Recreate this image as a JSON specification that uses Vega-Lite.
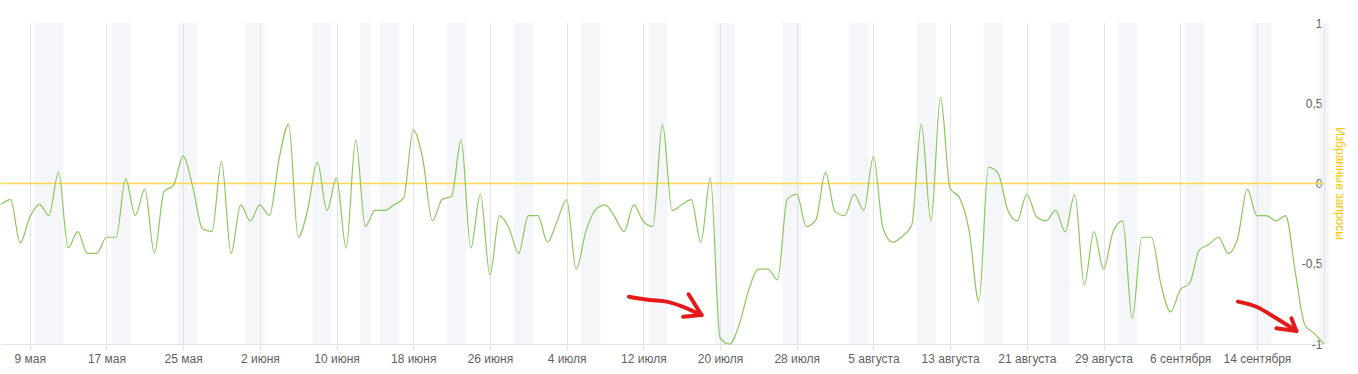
{
  "$schema": "https://vega.github.io/schema/vega-lite/v6.json",
  "width": 1323,
  "height": 321,
  "autosize": {"type": "none"},
  "padding": {"left": 1, "top": 23, "right": 34, "bottom": 30},
  "background": "white",
  "config": {"view": {"stroke": null}, "font": "Liberation Sans"},
  "datasets": {
    "series": [
      {"date": "2019-05-06", "v": -0.13}, {"date": "2019-05-07", "v": -0.10}, {"date": "2019-05-08", "v": -0.37},
      {"date": "2019-05-09", "v": -0.21}, {"date": "2019-05-10", "v": -0.13}, {"date": "2019-05-11", "v": -0.20},
      {"date": "2019-05-12", "v": 0.07}, {"date": "2019-05-13", "v": -0.40}, {"date": "2019-05-14", "v": -0.30},
      {"date": "2019-05-15", "v": -0.435}, {"date": "2019-05-16", "v": -0.435}, {"date": "2019-05-17", "v": -0.335},
      {"date": "2019-05-18", "v": -0.335}, {"date": "2019-05-19", "v": 0.03}, {"date": "2019-05-20", "v": -0.20},
      {"date": "2019-05-21", "v": -0.035}, {"date": "2019-05-22", "v": -0.435}, {"date": "2019-05-23", "v": -0.05},
      {"date": "2019-05-24", "v": -0.01}, {"date": "2019-05-25", "v": 0.17}, {"date": "2019-05-26", "v": -0.02},
      {"date": "2019-05-27", "v": -0.28}, {"date": "2019-05-28", "v": -0.30}, {"date": "2019-05-29", "v": 0.137},
      {"date": "2019-05-30", "v": -0.435}, {"date": "2019-05-31", "v": -0.133}, {"date": "2019-06-01", "v": -0.233},
      {"date": "2019-06-02", "v": -0.133}, {"date": "2019-06-03", "v": -0.20}, {"date": "2019-06-04", "v": 0.15},
      {"date": "2019-06-05", "v": 0.37}, {"date": "2019-06-06", "v": -0.335}, {"date": "2019-06-07", "v": -0.16},
      {"date": "2019-06-08", "v": 0.133}, {"date": "2019-06-09", "v": -0.168}, {"date": "2019-06-10", "v": 0.033},
      {"date": "2019-06-11", "v": -0.403}, {"date": "2019-06-12", "v": 0.272}, {"date": "2019-06-13", "v": -0.268},
      {"date": "2019-06-14", "v": -0.168}, {"date": "2019-06-15", "v": -0.168}, {"date": "2019-06-16", "v": -0.133},
      {"date": "2019-06-17", "v": -0.09}, {"date": "2019-06-18", "v": 0.335}, {"date": "2019-06-19", "v": 0.15},
      {"date": "2019-06-20", "v": -0.233}, {"date": "2019-06-21", "v": -0.10}, {"date": "2019-06-22", "v": -0.08},
      {"date": "2019-06-23", "v": 0.272}, {"date": "2019-06-24", "v": -0.403}, {"date": "2019-06-25", "v": -0.067},
      {"date": "2019-06-26", "v": -0.57}, {"date": "2019-06-27", "v": -0.20}, {"date": "2019-06-28", "v": -0.28},
      {"date": "2019-06-29", "v": -0.435}, {"date": "2019-06-30", "v": -0.20}, {"date": "2019-07-01", "v": -0.20},
      {"date": "2019-07-02", "v": -0.366}, {"date": "2019-07-03", "v": -0.237}, {"date": "2019-07-04", "v": -0.10},
      {"date": "2019-07-05", "v": -0.534}, {"date": "2019-07-06", "v": -0.30}, {"date": "2019-07-07", "v": -0.164},
      {"date": "2019-07-08", "v": -0.133}, {"date": "2019-07-09", "v": -0.206}, {"date": "2019-07-10", "v": -0.30},
      {"date": "2019-07-11", "v": -0.133}, {"date": "2019-07-12", "v": -0.237}, {"date": "2019-07-13", "v": -0.268},
      {"date": "2019-07-14", "v": 0.37}, {"date": "2019-07-15", "v": -0.168}, {"date": "2019-07-16", "v": -0.133},
      {"date": "2019-07-17", "v": -0.10}, {"date": "2019-07-18", "v": -0.366}, {"date": "2019-07-19", "v": 0.033},
      {"date": "2019-07-20", "v": -0.96}, {"date": "2019-07-21", "v": -1.0}, {"date": "2019-07-22", "v": -0.88},
      {"date": "2019-07-23", "v": -0.663}, {"date": "2019-07-24", "v": -0.534}, {"date": "2019-07-25", "v": -0.534},
      {"date": "2019-07-26", "v": -0.60}, {"date": "2019-07-27", "v": -0.10}, {"date": "2019-07-28", "v": -0.067},
      {"date": "2019-07-29", "v": -0.268}, {"date": "2019-07-30", "v": -0.227}, {"date": "2019-07-31", "v": 0.069},
      {"date": "2019-08-01", "v": -0.175}, {"date": "2019-08-02", "v": -0.20}, {"date": "2019-08-03", "v": -0.067},
      {"date": "2019-08-04", "v": -0.168}, {"date": "2019-08-05", "v": 0.168}, {"date": "2019-08-06", "v": -0.28},
      {"date": "2019-08-07", "v": -0.366}, {"date": "2019-08-08", "v": -0.33}, {"date": "2019-08-09", "v": -0.258},
      {"date": "2019-08-10", "v": 0.37}, {"date": "2019-08-11", "v": -0.233}, {"date": "2019-08-12", "v": 0.538},
      {"date": "2019-08-13", "v": -0.03}, {"date": "2019-08-14", "v": -0.09}, {"date": "2019-08-15", "v": -0.30},
      {"date": "2019-08-16", "v": -0.736}, {"date": "2019-08-17", "v": 0.10}, {"date": "2019-08-18", "v": 0.065},
      {"date": "2019-08-19", "v": -0.164}, {"date": "2019-08-20", "v": -0.233}, {"date": "2019-08-21", "v": -0.067},
      {"date": "2019-08-22", "v": -0.206}, {"date": "2019-08-23", "v": -0.233}, {"date": "2019-08-24", "v": -0.168},
      {"date": "2019-08-25", "v": -0.30}, {"date": "2019-08-26", "v": -0.067}, {"date": "2019-08-27", "v": -0.632},
      {"date": "2019-08-28", "v": -0.30}, {"date": "2019-08-29", "v": -0.534}, {"date": "2019-08-30", "v": -0.30},
      {"date": "2019-08-31", "v": -0.233}, {"date": "2019-09-01", "v": -0.84}, {"date": "2019-09-02", "v": -0.335},
      {"date": "2019-09-03", "v": -0.335}, {"date": "2019-09-04", "v": -0.632}, {"date": "2019-09-05", "v": -0.80},
      {"date": "2019-09-06", "v": -0.663}, {"date": "2019-09-07", "v": -0.62}, {"date": "2019-09-08", "v": -0.414},
      {"date": "2019-09-09", "v": -0.38}, {"date": "2019-09-10", "v": -0.335}, {"date": "2019-09-11", "v": -0.435},
      {"date": "2019-09-12", "v": -0.34}, {"date": "2019-09-13", "v": -0.035}, {"date": "2019-09-14", "v": -0.20},
      {"date": "2019-09-15", "v": -0.20}, {"date": "2019-09-16", "v": -0.233}, {"date": "2019-09-17", "v": -0.20},
      {"date": "2019-09-18", "v": -0.55}, {"date": "2019-09-19", "v": -0.88}, {"date": "2019-09-20", "v": -0.935},
      {"date": "2019-09-21", "v": -1.0}
    ],
    "bands": [
      {"start": "2019-05-09T12:00:00Z", "end": "2019-05-12T12:00:00Z"},
      {"start": "2019-05-17T12:00:00Z", "end": "2019-05-19T12:00:00Z"},
      {"start": "2019-05-24T12:00:00Z", "end": "2019-05-26T12:00:00Z"},
      {"start": "2019-05-31T12:00:00Z", "end": "2019-06-02T12:00:00Z"},
      {"start": "2019-06-07T12:00:00Z", "end": "2019-06-09T12:00:00Z"},
      {"start": "2019-06-12T12:00:00Z", "end": "2019-06-13T12:00:00Z"},
      {"start": "2019-06-14T12:00:00Z", "end": "2019-06-16T12:00:00Z"},
      {"start": "2019-06-21T12:00:00Z", "end": "2019-06-23T12:00:00Z"},
      {"start": "2019-06-28T12:00:00Z", "end": "2019-06-30T12:00:00Z"},
      {"start": "2019-07-05T12:00:00Z", "end": "2019-07-07T12:00:00Z"},
      {"start": "2019-07-12T12:00:00Z", "end": "2019-07-14T12:00:00Z"},
      {"start": "2019-07-19T12:00:00Z", "end": "2019-07-21T12:00:00Z"},
      {"start": "2019-07-26T12:00:00Z", "end": "2019-07-28T12:00:00Z"},
      {"start": "2019-08-02T12:00:00Z", "end": "2019-08-04T12:00:00Z"},
      {"start": "2019-08-09T12:00:00Z", "end": "2019-08-11T12:00:00Z"},
      {"start": "2019-08-16T12:00:00Z", "end": "2019-08-18T12:00:00Z"},
      {"start": "2019-08-23T12:00:00Z", "end": "2019-08-25T12:00:00Z"},
      {"start": "2019-08-30T12:00:00Z", "end": "2019-09-01T12:00:00Z"},
      {"start": "2019-09-06T12:00:00Z", "end": "2019-09-08T12:00:00Z"},
      {"start": "2019-09-13T12:00:00Z", "end": "2019-09-15T12:00:00Z"},
      {"start": "2019-09-20T12:00:00Z", "end": "2019-09-21T12:00:00Z"}
    ],
    "zero": [{"v": 0}],
    "arrows": [
      {"seg": "a1", "i": 0, "date": "2019-07-10T11:45:00Z", "v": -0.705},
      {"seg": "a1", "i": 1, "date": "2019-07-12T16:20:00Z", "v": -0.726},
      {"seg": "a1", "i": 2, "date": "2019-07-14T10:00:00Z", "v": -0.736},
      {"seg": "a1", "i": 3, "date": "2019-07-16T03:40:00Z", "v": -0.768},
      {"seg": "a1", "i": 4, "date": "2019-07-18T01:40:00Z", "v": -0.819},
      {"seg": "a1u", "i": 0, "date": "2019-07-16T17:20:00Z", "v": -0.690},
      {"seg": "a1u", "i": 1, "date": "2019-07-18T01:40:00Z", "v": -0.819},
      {"seg": "a1l", "i": 0, "date": "2019-07-16T03:40:00Z", "v": -0.830},
      {"seg": "a1l", "i": 1, "date": "2019-07-18T01:40:00Z", "v": -0.819},
      {"seg": "a2", "i": 0, "date": "2019-09-12T00:40:00Z", "v": -0.736},
      {"seg": "a2", "i": 1, "date": "2019-09-13T22:50:00Z", "v": -0.768},
      {"seg": "a2", "i": 2, "date": "2019-09-16T00:40:00Z", "v": -0.840},
      {"seg": "a2", "i": 3, "date": "2019-09-18T02:50:00Z", "v": -0.919},
      {"seg": "a2u", "i": 0, "date": "2019-09-17T14:20:00Z", "v": -0.840},
      {"seg": "a2u", "i": 1, "date": "2019-09-18T02:50:00Z", "v": -0.919},
      {"seg": "a2l", "i": 0, "date": "2019-09-16T00:40:00Z", "v": -0.902},
      {"seg": "a2l", "i": 1, "date": "2019-09-18T02:50:00Z", "v": -0.919}
    ]
  },
  "layer": [
    {
      "data": {"name": "bands"},
      "mark": {"type": "rect", "color": "#dde2ea", "opacity": 0.3},
      "encoding": {
        "x": {
          "field": "start", "type": "temporal",
          "scale": {"type": "utc", "domain": [{"year": 2019, "month": "may", "date": 6, "utc": true}, {"year": 2019, "month": "sep", "date": 21, "utc": true}]},
          "axis": {
            "values": [
              {"year": 2019, "month": "may", "date": 9, "utc": true},
              {"year": 2019, "month": "may", "date": 17, "utc": true},
              {"year": 2019, "month": "may", "date": 25, "utc": true},
              {"year": 2019, "month": "jun", "date": 2, "utc": true},
              {"year": 2019, "month": "jun", "date": 10, "utc": true},
              {"year": 2019, "month": "jun", "date": 18, "utc": true},
              {"year": 2019, "month": "jun", "date": 26, "utc": true},
              {"year": 2019, "month": "jul", "date": 4, "utc": true},
              {"year": 2019, "month": "jul", "date": 12, "utc": true},
              {"year": 2019, "month": "jul", "date": 20, "utc": true},
              {"year": 2019, "month": "jul", "date": 28, "utc": true},
              {"year": 2019, "month": "aug", "date": 5, "utc": true},
              {"year": 2019, "month": "aug", "date": 13, "utc": true},
              {"year": 2019, "month": "aug", "date": 21, "utc": true},
              {"year": 2019, "month": "aug", "date": 29, "utc": true},
              {"year": 2019, "month": "sep", "date": 6, "utc": true},
              {"year": 2019, "month": "sep", "date": 14, "utc": true}
            ],
            "labelExpr": "utcdate(datum.value) + ' ' + ['января','февраля','марта','апреля','мая','июня','июля','августа','сентября','октября','ноября','декабря'][utcmonth(datum.value)]",
            "title": null,
            "grid": true,
            "gridColor": "#e3e3e3",
            "gridWidth": 1,
            "domainColor": "#e3e3e3",
            "tickColor": "#e3e3e3",
            "tickSize": 6,
            "labelColor": "#5f5f5f",
            "labelFontSize": 12,
            "labelFont": "Liberation Sans",
            "labelPadding": 3,
            "labelFlush": false,
            "labelOverlap": false
          }
        },
        "x2": {"field": "end"}
      }
    },
    {
      "data": {"name": "zero"},
      "mark": {"type": "rule", "color": "#ffd84d", "strokeWidth": 1.6},
      "encoding": {"y": {"field": "v", "type": "quantitative"}}
    },
    {
      "data": {"name": "series"},
      "mark": {"type": "line", "interpolate": "monotone", "color": "#8cc65c", "strokeWidth": 1.2},
      "encoding": {
        "x": {"field": "date", "type": "temporal"},
        "y": {
          "field": "v", "type": "quantitative",
          "scale": {"domain": [-1, 1], "nice": false, "zero": false},
          "axis": {
            "orient": "right",
            "values": [-1, -0.5, 0, 0.5, 1],
            "labelExpr": "replace(toString(datum.value), '.', ',')",
            "grid": false,
            "ticks": false,
            "tickSize": 0,
            "domain": true,
            "domainColor": "#e6e6e6",
            "labelAlign": "right",
            "labelPadding": -2,
            "labelColor": "#5f5f5f",
            "labelFontSize": 12,
            "labelFont": "Liberation Sans",
            "labelFlush": false,
            "title": "Избранные запросы",
            "titleColor": "#f7c600",
            "titleFontSize": 12,
            "titleFontWeight": "normal",
            "titleFont": "Liberation Sans",
            "titleAngle": 90,
            "titleAlign": "center",
            "titleBaseline": "middle",
            "titleX": 15,
            "titleY": 160
          }
        }
      }
    },
    {
      "data": {"name": "arrows"},
      "mark": {"type": "line", "interpolate": "monotone", "color": "#e41b1b", "strokeWidth": 4, "strokeCap": "round", "strokeJoin": "round"},
      "encoding": {
        "x": {"field": "date", "type": "temporal"},
        "y": {"field": "v", "type": "quantitative"},
        "detail": {"field": "seg"},
        "order": {"field": "i"}
      }
    }
  ]
}
